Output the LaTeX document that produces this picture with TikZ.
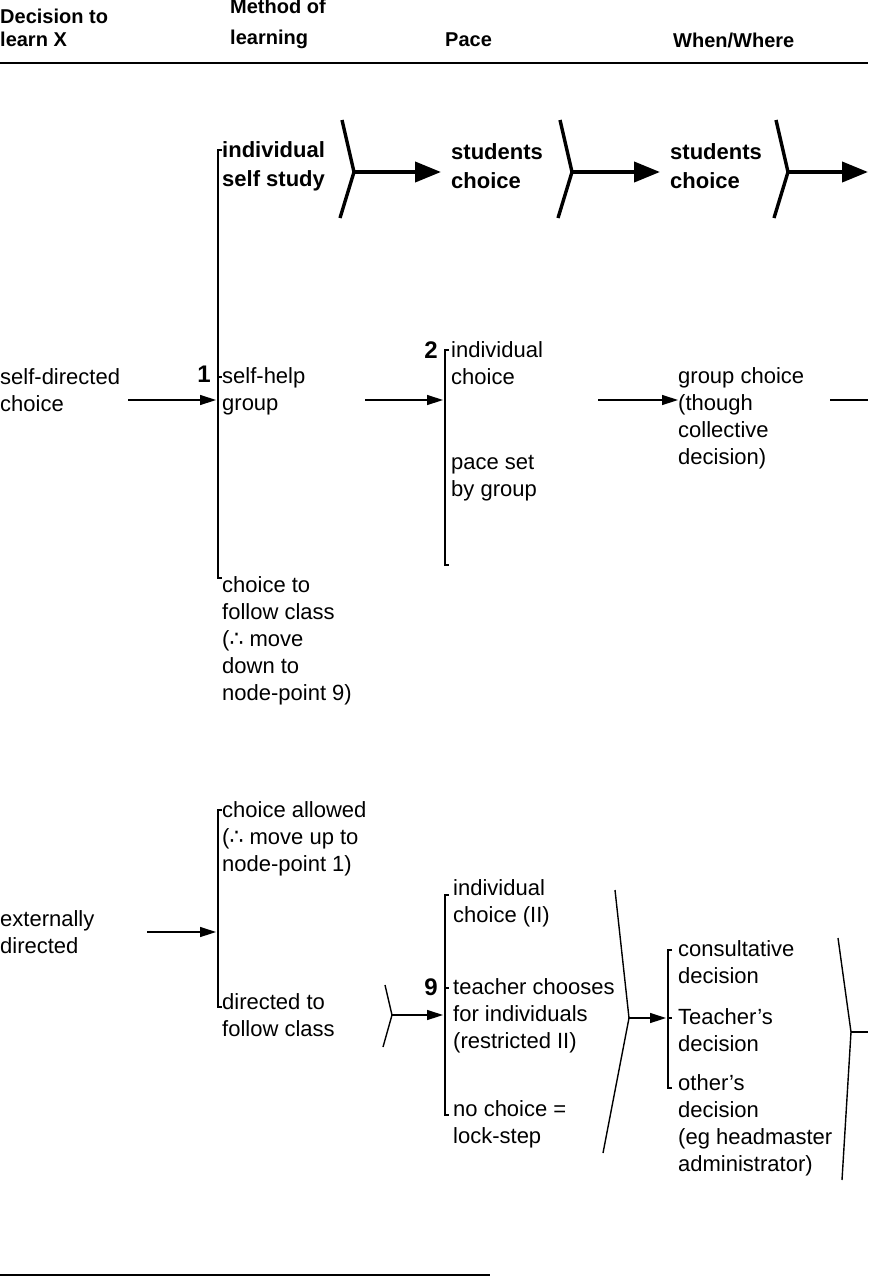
\documentclass[tikz,border=0pt]{standalone}
\usepackage{fontspec}
\setmainfont{Liberation Sans}
\newfontfamily\symfont{DejaVu Sans}
\usetikzlibrary{arrows.meta}
\newcommand{\hence}{{\symfont\char"2234}}
\begin{document}
\begin{tikzpicture}[x=1pt,y=-1pt,
  txt/.style={anchor=west,inner sep=0pt,align=left,font=\fontsize{22}{27}\selectfont},
  btxt/.style={txt,font=\fontsize{22}{29}\selectfont\bfseries},
  hdr/.style={anchor=west,inner sep=0pt,align=left,font=\fontsize{20}{23}\selectfont\bfseries},
  num/.style={anchor=east,inner sep=0pt,font=\fontsize{24}{24}\selectfont\bfseries},
  brk/.style={line width=2.4pt},
  arr/.style={line width=1.4pt,-{Triangle[length=16pt,width=10pt]}},
  bigarr/.style={line width=4pt,-{Triangle[length=26pt,width=20pt]}},
  chev/.style={line width=3.4pt},
  thin/.style={line width=1.4pt},
  rule/.style={line width=2pt}]
\useasboundingbox (0,0) rectangle (868,1277);

% column heads
\node[hdr] (decide) at (0,28) {Decision to\\learn X};
\node[hdr] (method) at (230,24) {Method of\\[8pt]learning};
\node[hdr] (pace) at (445,40) {Pace};
\node[hdr] (when) at (673,40) {When/Where};
\coordinate (rl) at (0,63);
\coordinate (rr) at (868,63);
\draw[rule] (rl) -- (rr);

% self-directed branch
\node[btxt] (selfstudy) at (222,166) {individual\\self study};
\node[btxt] (studA) at (451,166) {students\\choice};
\node[btxt] (studB) at (670,166) {students\\choice};
\coordinate (chA) at (354,172);
\coordinate (chB) at (572,172);
\coordinate (chC) at (788,172);
\coordinate (edge) at (868,172);
\draw[chev] (342,120) -- (chA) -- (340,218);
\draw[chev] (560,120) -- (chB) -- (558,218);
\draw[chev] (776,120) -- (chC) -- (774,218);
\draw[bigarr,shorten >=10pt] (chA) -- (chA -| studA.west);
\draw[bigarr,shorten >=10pt] (chB) -- (chB -| studB.west);
\draw[bigarr] (chC) -- (edge);

\node[txt] (selfdir) at (0,390) {self-directed\\choice};
\node[txt] (selfhelp) at (222,391) {self-help\\group};
\node[num] (one) at (211,374) {1};
\node[txt] (follow) at (222,641) {choice to\\follow class\\(\hence{} move\\down to\\node-point 9)};
\draw[brk] (222,150) -- (218,150) -- (218,578) -- (222,578);
\draw[brk] (218,377) -- (222,377);
\coordinate (sA) at (128,400);
\coordinate (bA) at (216,400);
\draw[arr] (sA) -- (bA);

\node[txt] (indivA) at (451,363) {individual\\choice};
\node[txt] (paceset) at (451,478) {pace set\\by group};
\node[num] (two) at (438,350) {2};
\draw[brk] (449,350) -- (445,350) -- (445,565) -- (449,565);
\coordinate (sB) at (365,400);
\coordinate (bB) at (443,400);
\draw[arr] (sB) -- (bB);

\node[txt] (groupch) at (678,418) {group choice\\(though\\collective\\decision)};
\coordinate (sC) at (598,400);
\draw[arr] (sC) -- (groupch.west |- sC);
\coordinate (sD) at (830,400);
\draw[thin] (sD) -- (edge |- sD);

% externally directed branch
\node[txt] (allowed) at (222,839) {choice allowed\\(\hence{} move up to\\node-point 1)};
\node[txt] (extdir) at (0,932) {externally\\directed};
\node[txt] (directed) at (222,1015) {directed to\\follow class};
\draw[brk] (222,810) -- (218,810) -- (218,1007) -- (222,1007);
\coordinate (sE) at (147,932);
\coordinate (bE) at (216,932);
\draw[arr] (sE) -- (bE);

\coordinate (chD) at (392,1015);
\draw[thin] (385,985) -- (chD) -- (383,1047);
\node[num] (nine) at (438,987) {9};
\coordinate (bF) at (443,1015);
\draw[arr] (chD) -- (bF);

\node[txt] (indivB) at (453,903) {individual\\choice (II)};
\node[txt] (teacher) at (453,1016) {teacher chooses\\for individuals\\(restricted II)};
\node[txt] (lockstep) at (453,1124) {no choice =\\lock-step};
\draw[brk] (449,895) -- (445,895) -- (445,1115) -- (449,1115);
\draw[brk] (445,988) -- (449,988);

\coordinate (chE) at (629,1018);
\draw[thin] (615,890) -- (chE) -- (603,1153);
\coordinate (bG) at (666,1018);
\draw[arr] (chE) -- (bG);

\node[txt] (consult) at (678,962) {consultative\\decision};
\node[txt] (teachdec) at (678,1030) {Teacher’s\\decision};
\node[txt] (others) at (678,1125) {other’s\\decision\\(eg headmaster\\administrator)};
\draw[brk] (672,950) -- (668,950) -- (668,1088) -- (672,1088);
\draw[brk] (668,1018) -- (672,1018);

\coordinate (chF) at (851,1032);
\draw[thin] (838,938) -- (chF) -- (842,1180);
\draw[thin] (chF) -- (edge |- chF);

\coordinate (bl) at (0,1275);
\coordinate (br) at (490,1275);
\draw[rule] (bl) -- (br);
\end{tikzpicture}
\end{document}
